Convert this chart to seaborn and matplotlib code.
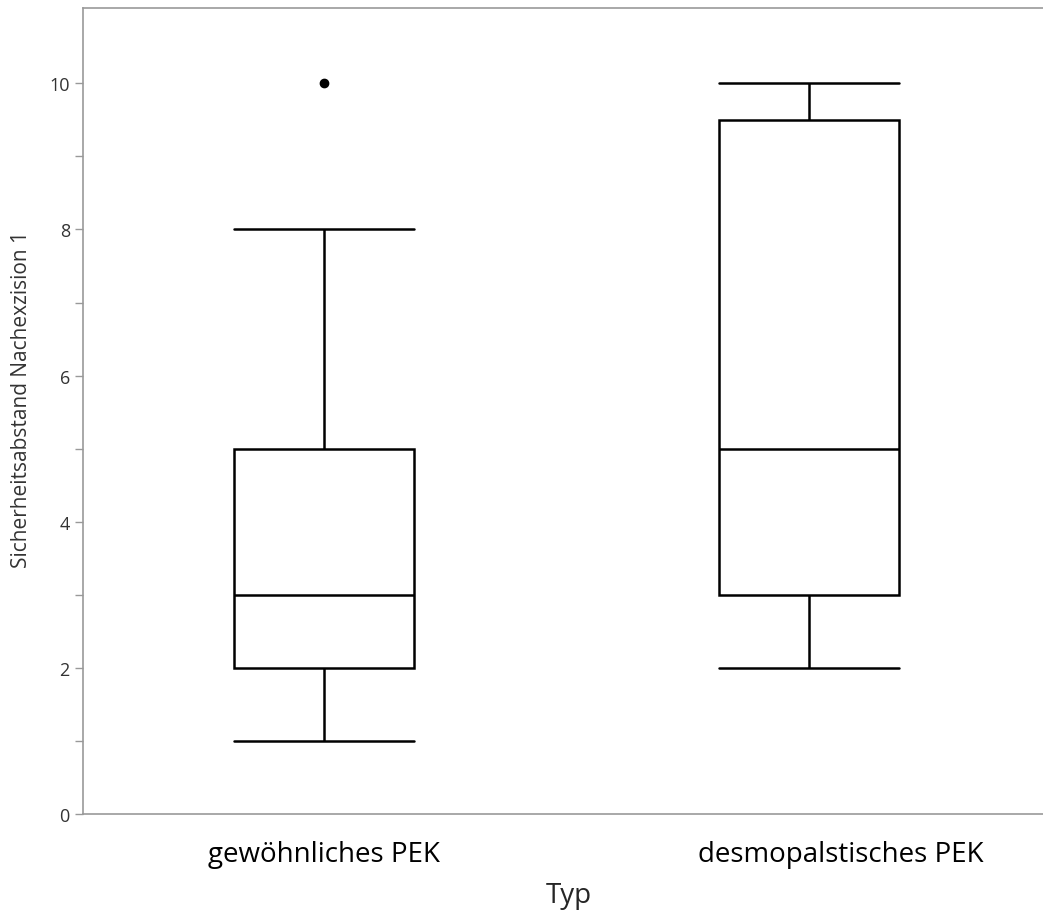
import numpy as np
import pandas as pd
import seaborn as sns
import matplotlib.pyplot as plt
import matplotlib.transforms as mtransforms
from matplotlib.ticker import FixedLocator

# Werte pro Gruppe (Quartile, Whisker, Ausreißer)
categories = ["gewöhnliches PEK", "desmopalstisches PEK"]
werte_gewoehnlich = [1, 2, 2, 2, 3, 3, 4, 5, 5, 8, 10]
werte_desmo = [2, 3, 3, 3, 5, 7, 9.5, 10, 10]
y_ticks = [0, 2, 4, 6, 8, 10]
y_minor = [1, 3, 5, 7, 9]

df = pd.DataFrame({
    "Typ": [categories[0]] * len(werte_gewoehnlich)
    + [categories[1]] * len(werte_desmo),
    "Wert": werte_gewoehnlich + werte_desmo,
})

sns.set_style("white")
plt.rcParams['font.family'] = ['Open Sans', 'DejaVu Sans']

fig = plt.figure(figsize=(10.43, 9.12), dpi=100)
ax = fig.add_axes([0.0796, 0.1064, 0.9204, 0.8836])

line = dict(color="black", linewidth=1.8)
sns.boxplot(data=df, x="Typ", y="Wert", order=categories, ax=ax,
            width=0.37, whis=1.5, capwidths=0.37,
            boxprops=dict(facecolor="white", edgecolor="black", linewidth=1.8),
            medianprops=line, whiskerprops=line, capprops=line,
            flierprops=dict(marker="o", markerfacecolor="black",
                            markeredgecolor="black", markersize=6))

ax.set_xlim(-0.497, 1.482)
ax.set_ylim(0, 11.03)
ax.set_yticks(y_ticks)
ax.yaxis.set_minor_locator(FixedLocator(y_minor))
ax.tick_params(axis="y", which="both", direction="out", length=6,
               color="#999999", width=1, labelsize=13, labelcolor="#333333",
               left=True)
ax.tick_params(axis="x", length=0, labelsize=20, pad=19, labelcolor="black")

# zweites Label im Original etwas nach rechts versetzt
offset = mtransforms.ScaledTranslation(0.32, 0, fig.dpi_scale_trans)
lbl = ax.get_xticklabels()[1]
lbl.set_transform(lbl.get_transform() + offset)

for s in ax.spines.values():
    s.set_color("#999999")
    s.set_linewidth(1.2)
ax.spines["right"].set_visible(False)

ax.set_xlabel("Typ", fontsize=20)
ax.xaxis.set_label_coords(0.506, -0.083)
ax.set_ylabel("Sicherheitsabstand Nachexzision 1", fontsize=15,
              color="#333333")
ax.yaxis.set_label_coords(-0.053, 0.515)

fig.savefig("out.png", dpi=100, facecolor="white")
